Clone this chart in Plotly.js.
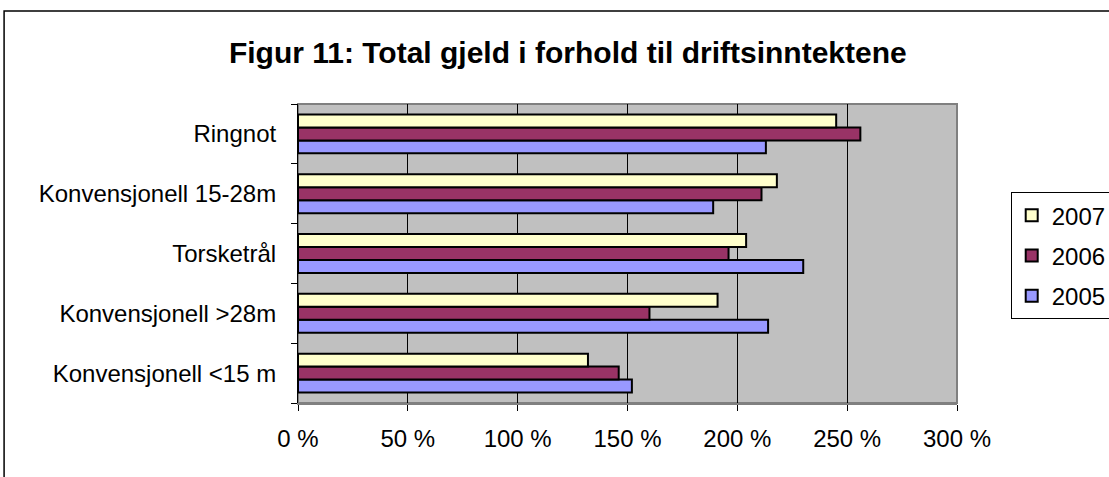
<!DOCTYPE html>
<html>
<head>
<meta charset="utf-8">
<script src="https://cdn.plot.ly/plotly-3.0.1.min.js"></script>
<style>
  html, body { margin: 0; padding: 0; background: #ffffff; }
  #chart { width: 1109px; height: 477px; }
</style>
</head>
<body>
<div id="chart"></div>
<script>
const categories = ["Konvensjonell <15 m", "Konvensjonell >28m", "Torsketrål", "Konvensjonell 15-28m", "Ringnot"];
const v2005 = [152, 214, 230, 189, 213];
const v2006 = [146, 160, 196, 211, 256];
const v2007 = [132, 191, 204, 218, 245];
const tickVals = [0, 50, 100, 150, 200, 250, 300];
const tickText = ["0 %", "50 %", "100 %", "150 %", "200 %", "250 %", "300 %"];

const mk = (name, vals, color, rank) => ({
  type: "bar", orientation: "h", name: name, legendgroup: name, legendrank: rank,
  x: vals, y: categories,
  marker: { color: color, line: { color: "#000000", width: 2 } },
  hoverinfo: "x+y"
});

const data = [
  mk("2005", v2005, "#9999FF", 3),
  mk("2006", v2006, "#993366", 2),
  mk("2007", v2007, "#FFFFCC", 1)
];

const font = "Liberation Sans, Arial, sans-serif";

const layout = {
  width: 1109, height: 477,
  margin: { l: 298, r: 152, t: 104, b: 74, pad: 0, autoexpand: false },
  paper_bgcolor: "#ffffff",
  plot_bgcolor: "#C0C0C0",
  font: { family: font, size: 24, color: "#000000" },
  title: {
    text: "<b>Figur 11: Total gjeld i forhold til driftsinntektene</b>",
    font: { family: font, size: 30, color: "#000000" },
    x: 0.512, xanchor: "center", y: 0.89, yanchor: "middle"
  },
  barmode: "group", bargap: 0.35, bargroupgap: 0,
  showlegend: true,
  legend: {
    x: 1.0815, xanchor: "left", y: 0.705, yanchor: "top",
    traceorder: "grouped",
    bordercolor: "#000000", borderwidth: 1, bgcolor: "#ffffff",
    font: { family: font, size: 24 }, itemwidth: 30, tracegroupgap: 6
  },
  xaxis: {
    range: [0, 300], tickvals: tickVals, ticktext: tickText,
    showgrid: true, gridcolor: "#000000", gridwidth: 1,
    ticks: "outside", ticklen: 6, tickcolor: "#000000", tickwidth: 1,
    showline: true, linecolor: "#808080", linewidth: 2,
    zeroline: false, ticklabelstandoff: 7, automargin: false,
    tickfont: { family: font, size: 24 }, fixedrange: true
  },
  yaxis: {
    type: "category", categoryorder: "array", categoryarray: categories,
    ticks: "outside", tickson: "boundaries", ticklen: 6, tickcolor: "#000000",
    showline: true, linecolor: "#000000", linewidth: 1,
    showgrid: false, zeroline: false, ticklabelstandoff: 16, automargin: false,
    tickfont: { family: font, size: 24 }, fixedrange: true
  },
  shapes: [
    { type: "rect", xref: "paper", yref: "paper", x0: 0, x1: 1, y0: 0, y1: 1,
      line: { color: "#808080", width: 2 }, fillcolor: "rgba(0,0,0,0)", layer: "below" },
    { type: "rect", xref: "paper", yref: "paper", x0: -0.446, x1: 1.5, y0: -0.5, y1: 1.311,
      line: { color: "#000000", width: 1.5 }, fillcolor: "rgba(0,0,0,0)", layer: "below" }
  ]
};

Plotly.newPlot("chart", data, layout, { displayModeBar: false, staticPlot: true });
</script>
</body>
</html>
